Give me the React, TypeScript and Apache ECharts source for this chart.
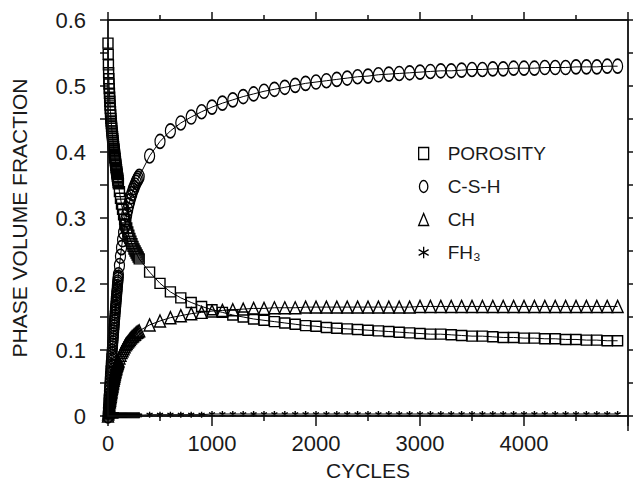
import React, { useEffect, useRef } from "react";
import * as echarts from "echarts";

// Cycle numbers at which each phase was sampled
const cyclesEarly = [0, 2, 4, 6, 8, 10, 12, 14, 16, 18, 20, 22, 24, 26, 28, 30, 32, 34, 36, 38, 40, 42, 44, 46, 48, 50, 52, 54, 56, 58, 60, 62, 64, 66, 68, 70, 72, 74, 76, 78, 80, 82, 84, 86, 88, 90, 92, 94, 96, 98, 100];
const cyclesMid = [110, 120, 130, 140, 150, 160, 170, 180, 190, 200, 210, 220, 230, 240, 250, 260, 270, 280, 290, 300];
const cyclesLate = [400, 500, 600, 700, 800, 900, 1000, 1100, 1200, 1300, 1400, 1500, 1600, 1700, 1800, 1900, 2000, 2100, 2200, 2300, 2400, 2500, 2600, 2700, 2800, 2900, 3000, 3100, 3200, 3300, 3400, 3500, 3600, 3700, 3800, 3900, 4000, 4100, 4200, 4300, 4400, 4500, 4600, 4700, 4800, 4900];
const cycles = [...cyclesEarly, ...cyclesMid, ...cyclesLate];

const porosity = [
  0.565, 0.548, 0.532, 0.520, 0.511, 0.503, 0.496, 0.489, 0.483, 0.477, 0.471, 0.466, 0.461, 0.456, 0.451, 0.447, 0.443, 0.439, 0.436, 0.432, 0.429, 0.426, 0.423, 0.420, 0.417, 0.414, 0.411, 0.408, 0.405, 0.403, 0.400, 0.397, 0.395, 0.392, 0.390, 0.387, 0.385, 0.382, 0.380, 0.377, 0.375, 0.373, 0.370, 0.368, 0.366, 0.363, 0.361, 0.359, 0.357, 0.354, 0.352,
  0.340, 0.330, 0.321, 0.313, 0.305, 0.298, 0.291, 0.285, 0.279, 0.274, 0.269, 0.265, 0.261, 0.257, 0.253, 0.250, 0.247, 0.244, 0.241, 0.238,
  0.218, 0.201, 0.188, 0.179, 0.172, 0.166, 0.161, 0.157, 0.153, 0.150, 0.147, 0.145, 0.143, 0.141, 0.139, 0.137, 0.136, 0.134, 0.133, 0.132, 0.131, 0.130, 0.129, 0.128, 0.127, 0.126, 0.125, 0.124, 0.124, 0.123, 0.122, 0.121, 0.121, 0.120, 0.119, 0.119, 0.118, 0.118, 0.117, 0.117, 0.116, 0.116, 0.115, 0.115, 0.114, 0.114,
];

const csh = [
  0.000, 0.006, 0.012, 0.017, 0.023, 0.028, 0.033, 0.038, 0.043, 0.048, 0.053, 0.058, 0.063, 0.067, 0.072, 0.076, 0.081, 0.085, 0.090, 0.094, 0.098, 0.103, 0.107, 0.111, 0.115, 0.119, 0.123, 0.127, 0.131, 0.135, 0.139, 0.143, 0.147, 0.151, 0.155, 0.159, 0.163, 0.166, 0.170, 0.174, 0.178, 0.181, 0.185, 0.189, 0.192, 0.196, 0.200, 0.203, 0.207, 0.210, 0.214,
  0.228, 0.242, 0.255, 0.267, 0.278, 0.288, 0.297, 0.305, 0.313, 0.320, 0.326, 0.332, 0.337, 0.342, 0.346, 0.350, 0.354, 0.357, 0.360, 0.363,
  0.394, 0.416, 0.432, 0.444, 0.453, 0.461, 0.468, 0.474, 0.479, 0.484, 0.488, 0.492, 0.495, 0.498, 0.501, 0.504, 0.506, 0.508, 0.510, 0.512, 0.514, 0.515, 0.517, 0.518, 0.519, 0.520, 0.521, 0.522, 0.523, 0.523, 0.524, 0.525, 0.525, 0.526, 0.526, 0.527, 0.527, 0.527, 0.528, 0.528, 0.528, 0.529, 0.529, 0.529, 0.530, 0.530,
];

const ch = [
  0.000, 0.003, 0.005, 0.008, 0.010, 0.013, 0.015, 0.017, 0.020, 0.022, 0.024, 0.026, 0.028, 0.030, 0.032, 0.034, 0.036, 0.038, 0.040, 0.042, 0.044, 0.045, 0.047, 0.049, 0.050, 0.052, 0.054, 0.055, 0.057, 0.058, 0.060, 0.061, 0.063, 0.064, 0.066, 0.067, 0.068, 0.070, 0.071, 0.072, 0.073, 0.075, 0.076, 0.077, 0.078, 0.079, 0.080, 0.081, 0.082, 0.083, 0.084,
  0.088, 0.092, 0.096, 0.099, 0.102, 0.105, 0.108, 0.110, 0.112, 0.114, 0.116, 0.118, 0.120, 0.121, 0.123, 0.124, 0.126, 0.127, 0.128, 0.129,
  0.138, 0.144, 0.149, 0.152, 0.155, 0.157, 0.159, 0.160, 0.161, 0.162, 0.163, 0.163, 0.164, 0.164, 0.164, 0.165, 0.165, 0.165, 0.165, 0.165, 0.165, 0.165, 0.165, 0.165, 0.165, 0.165, 0.166, 0.166, 0.166, 0.166, 0.166, 0.166, 0.166, 0.166, 0.166, 0.166, 0.166, 0.166, 0.166, 0.166, 0.166, 0.166, 0.166, 0.166, 0.166, 0.166,
];

const fh3 = [
  0.000, 0.000, 0.000, 0.000, 0.000, 0.000, 0.000, 0.000, 0.000, 0.000, 0.000, 0.000, 0.000, 0.000, 0.000, 0.000, 0.000, 0.000, 0.000, 0.000, 0.001, 0.001, 0.001, 0.001, 0.001, 0.001, 0.001, 0.001, 0.001, 0.001, 0.001, 0.001, 0.001, 0.001, 0.001, 0.001, 0.001, 0.001, 0.001, 0.001, 0.001, 0.001, 0.001, 0.001, 0.001, 0.001, 0.001, 0.001, 0.001, 0.001, 0.001,
  0.001, 0.001, 0.001, 0.001, 0.001, 0.001, 0.001, 0.001, 0.001, 0.001, 0.001, 0.001, 0.001, 0.001, 0.001, 0.001, 0.001, 0.001, 0.001, 0.001,
  0.002, 0.002, 0.002, 0.002, 0.002, 0.002, 0.003, 0.003, 0.003, 0.003, 0.003, 0.003, 0.003, 0.003, 0.003, 0.003, 0.003, 0.003, 0.003, 0.003, 0.003, 0.003, 0.003, 0.003, 0.003, 0.003, 0.003, 0.003, 0.003, 0.003, 0.003, 0.003, 0.003, 0.003, 0.003, 0.003, 0.003, 0.003, 0.003, 0.003, 0.003, 0.003, 0.003, 0.003, 0.003, 0.003,
];

const seriesNames = ["POROSITY", "C-S-H", "CH", "FH\u2083"];
const xTickLabels = ["0", "1000", "2000", "3000", "4000", "5000"];
const yTickLabels = ["0", "0.1", "0.2", "0.3", "0.4", "0.5", "0.6"];

const FONT = "Liberation Sans";
const TXT = "#1a1a1a";

const ELLIPSE = "path://M50,0A35,50 0 1,1 50,100A35,50 0 1,1 50,0Z";
const STAR = "path://M5,0L5,10M0.67,2.5L9.33,7.5M0.67,7.5L9.33,2.5";

export default function App() {
  const ref = useRef<HTMLDivElement>(null);

  useEffect(() => {
    if (!ref.current) return;
    const chart = echarts.init(ref.current, null, { renderer: "svg" });

    const pair = (vals: number[]) => cycles.map((c, i) => [c, vals[i]]);

    const mk = (name: string, vals: number[], symbol: string, size: number[] | number) => ({
      name,
      type: "line",
      data: pair(vals),
      symbol,
      symbolSize: size,
      showAllSymbol: true,
      itemStyle: { color: "rgba(0,0,0,0)", borderColor: "#000", borderWidth: 1.4 },
      lineStyle: { color: "#000", width: 1 },
      emphasis: { disabled: true },
      z: 3,
    });

    const axisLine = () => ({ show: true, onZero: false, lineStyle: { color: "#111", width: 1.5 } });
    const tick = (len: number) => ({ show: true, length: len, lineStyle: { color: "#111", width: 1.5 } });
    const minor = (len: number) => ({ show: true, splitNumber: 2, length: len, lineStyle: { color: "#111", width: 1.5 } });

    chart.setOption({
      animation: false,
      backgroundColor: "#fff",
      grid: { left: 108, right: 6, top: 20, bottom: 65, containLabel: false, outerBoundsMode: "none" },
      legend: {
        orient: "vertical",
        left: 413,
        top: 139,
        itemWidth: 10,
        itemHeight: 12,
        itemGap: 14,
        selectedMode: false,
        textStyle: { fontFamily: FONT, fontSize: 19, color: TXT, padding: [0, 0, 0, 14] },
        itemStyle: { color: "rgba(0,0,0,0)", borderColor: "#000", borderWidth: 1.3 },
        data: [
          { name: seriesNames[0], icon: "rect" },
          { name: seriesNames[1], icon: ELLIPSE },
          { name: seriesNames[2], icon: "triangle" },
          { name: seriesNames[3], icon: STAR },
        ],
      },
      xAxis: [
        {
          type: "value",
          position: "bottom",
          min: 0,
          max: 5000,
          interval: 1000,
          axisLine: axisLine(),
          axisTick: tick(10),
          minorTick: minor(5),
          splitLine: { show: false },
          minorSplitLine: { show: false },
          axisLabel: {
            fontFamily: FONT,
            fontSize: 22,
            color: TXT,
            margin: 16,
            showMaxLabel: false,
            formatter: (v: number) => xTickLabels[Math.round(v / 1000)] ?? String(v),
          },
          name: "CYCLES",
          nameLocation: "middle",
          nameGap: 44,
          nameTextStyle: { fontFamily: FONT, fontSize: 21, color: TXT },
        },
        {
          type: "value",
          position: "top",
          min: 0,
          max: 5000,
          interval: 1000,
          axisLine: axisLine(),
          axisTick: tick(8),
          minorTick: minor(5),
          splitLine: { show: false },
          minorSplitLine: { show: false },
          axisLabel: { show: false },
        },
      ],
      yAxis: [
        {
          type: "value",
          position: "left",
          min: 0,
          max: 0.6,
          interval: 0.1,
          axisLine: axisLine(),
          axisTick: tick(8),
          minorTick: minor(8),
          splitLine: { show: false },
          minorSplitLine: { show: false },
          axisLabel: {
            fontFamily: FONT,
            fontSize: 22,
            color: TXT,
            margin: 22,
            formatter: (v: number) => yTickLabels[Math.round(v * 10)] ?? String(v),
          },
          name: "PHASE VOLUME FRACTION",
          nameLocation: "middle",
          nameGap: 78,
          nameTextStyle: { fontFamily: FONT, fontSize: 21, color: TXT },
        },
        {
          type: "value",
          position: "right",
          min: 0,
          max: 0.6,
          interval: 0.1,
          axisLine: axisLine(),
          axisTick: tick(5),
          minorTick: minor(5),
          splitLine: { show: false },
          minorSplitLine: { show: false },
          axisLabel: { show: false },
        },
      ],
      graphic: [
        {
          type: "rect",
          shape: { x: 108, y: 20, width: 520, height: 396 },
          style: { fill: "none", stroke: "#111", lineWidth: 1.3 },
          silent: true,
          z: 10,
        },
        {
          type: "line",
          shape: { x1: 628, y1: 416, x2: 628, y2: 431 },
          style: { stroke: "#111", lineWidth: 1.5 },
          silent: true,
          z: 10,
        },
      ],
      series: [
        mk(seriesNames[3], fh3, STAR, 6),
        mk(seriesNames[2], ch, "triangle", [11, 12]),
        mk(seriesNames[1], csh, ELLIPSE, [10, 14]),
        mk(seriesNames[0], porosity, "rect", [10, 10]),
      ],
    });

    return () => chart.dispose();
  }, []);

  return (
    <div
      ref={ref}
      style={{ position: "fixed", left: 0, top: 0, width: 634, height: 481, background: "#fff" }}
    />
  );
}
